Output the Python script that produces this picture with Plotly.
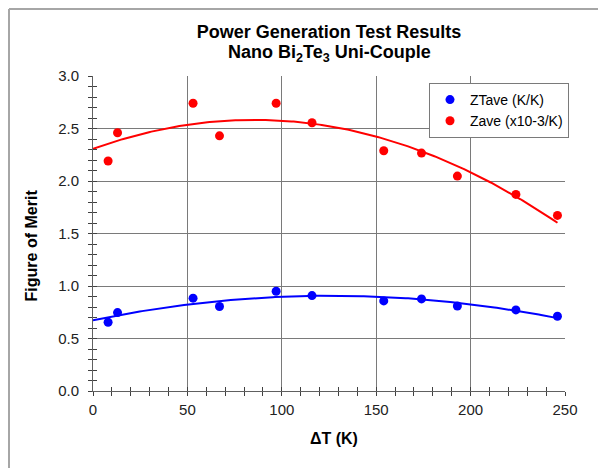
import numpy as np
import plotly.graph_objects as go

# Data
delta_t = [8, 13, 53, 67, 97, 116, 154, 174, 193, 224, 246]
zt_ave = [0.655, 0.747, 0.884, 0.805, 0.950, 0.909, 0.858, 0.877, 0.810, 0.772, 0.712]
z_ave = [2.19, 2.46, 2.74, 2.43, 2.74, 2.555, 2.288, 2.266, 2.047, 1.872, 1.672]

x_ticks = [0, 50, 100, 150, 200, 250]
y_ticks = [0.0, 0.5, 1.0, 1.5, 2.0, 2.5, 3.0]
y_tick_text = ["0.0", "0.5", "1.0", "1.5", "2.0", "2.5", "3.0"]

# 2nd-order polynomial trendlines (Excel-style) fitted to the data
fit_x = np.linspace(0, max(delta_t), 200)
zt_fit = np.polyval(np.polyfit(delta_t, zt_ave, 2), fit_x)
z_fit = np.polyval(np.polyfit(delta_t, z_ave, 2), fit_x)

# page has an 8px body margin; size the figure so it fills the window exactly
OFF = 8
W, H = 606 - OFF, 468 - OFF
PL, PR, PT, PB = 93, 565, 76, 391  # plot area in window pixels
ML, MR, MT, MB = PL - OFF, 606 - PR, PT - OFF, 468 - PB
PW, PH = W - ML - MR, H - MT - MB


def px(page_x):
    return (page_x - PL) / PW


def py(page_y):
    return (PB - page_y) / PH


FONT = "Liberation Sans, Arial, sans-serif"

fig = go.Figure()
fig.add_trace(go.Scatter(x=fit_x, y=zt_fit, mode="lines", line=dict(color="#0000ff", width=2),
                         showlegend=False, hoverinfo="skip"))
fig.add_trace(go.Scatter(x=fit_x, y=z_fit, mode="lines", line=dict(color="#ff0000", width=2),
                         showlegend=False, hoverinfo="skip"))
fig.add_trace(go.Scatter(x=delta_t, y=zt_ave, mode="markers", name="ZTave (K/K)",
                         marker=dict(color="#0000ff", size=9)))
fig.add_trace(go.Scatter(x=delta_t, y=z_ave, mode="markers", name="Zave (x10-3/K)",
                         marker=dict(color="#ff0000", size=9)))
# invisible trace to host the overlay axes (inner half of the crossing ticks)
fig.add_trace(go.Scatter(x=[None], y=[None], xaxis="x2", yaxis="y2", showlegend=False, hoverinfo="skip"))

axis_common = dict(showline=True, linecolor="#606060", linewidth=1, zeroline=False,
                   showgrid=True, gridcolor="#7a7a7a", gridwidth=1,
                   ticks="outside", ticklen=4, tickcolor="#404040", tickwidth=1,
                   tickfont=dict(family=FONT, size=15, color="#222222"))

fig.update_layout(
    width=W, height=H,
    margin=dict(l=ML, r=MR, t=MT, b=MB),
    paper_bgcolor="white", plot_bgcolor="white",
    font=dict(family=FONT, color="#000000"),
    title=dict(text="<b>Power Generation Test Results</b>",
               x=0.5, xref="paper", y=1 - (31.7 - OFF) / H, yref="container", yanchor="middle",
               font=dict(size=18, color="#000000")),
    xaxis=dict(range=[0, 250], tickvals=x_ticks, ticktext=[str(v) for v in x_ticks],
               minor=dict(dtick=10, ticks="outside", ticklen=4, tickcolor="#404040", showgrid=False),
               ticklabelstandoff=1, **axis_common),
    yaxis=dict(range=[0, 3], tickvals=y_ticks, ticktext=y_tick_text,
               minor=dict(dtick=0.1, ticks="outside", ticklen=4, tickcolor="#404040", showgrid=False),
               ticklabelstandoff=6, **axis_common),
    xaxis2=dict(overlaying="x", matches="x", anchor="y2", range=[0, 250], tickvals=x_ticks,
                showticklabels=False, showgrid=False, showline=False, zeroline=False,
                ticks="inside", ticklen=4, tickcolor="#404040", side="bottom",
                minor=dict(dtick=10, ticks="inside", ticklen=4, tickcolor="#404040")),
    yaxis2=dict(overlaying="y", matches="y", anchor="x2", range=[0, 3], tickvals=y_ticks,
                showticklabels=False, showgrid=False, showline=False, zeroline=False,
                ticks="inside", ticklen=4, tickcolor="#404040", side="left",
                minor=dict(dtick=0.1, ticks="inside", ticklen=4, tickcolor="#404040")),
    legend=dict(x=px(429), y=py(83), xanchor="left", yanchor="top",
                bgcolor="white", bordercolor="#7a7a7a", borderwidth=1,
                font=dict(size=14, color="#000000"), itemsizing="trace", itemwidth=30,
                tracegroupgap=0),
    annotations=[
        dict(text="<b>Nano Bi<sub>2</sub>Te<sub>3</sub> Uni-Couple</b>", xref="paper", yref="paper",
             x=0.5, y=py(53), showarrow=False, xanchor="center", yanchor="middle",
             font=dict(size=18, color="#000000")),
        dict(text="<b>Figure of Merit</b>", textangle=-90, xref="paper", yref="paper",
             x=px(31.7), y=py(245.7), showarrow=False,
             xanchor="center", yanchor="middle", font=dict(size=16, color="#000000")),
        dict(text="<b>ΔT (K)</b>", xref="paper", yref="paper",
             x=px(333.8), y=py(439), showarrow=False,
             xanchor="center", yanchor="middle", font=dict(size=16, color="#000000")),
    ],
    shapes=[
        dict(type="line", xref="paper", yref="paper",
             x0=px(OFF + 1), x1=px(606), y0=py(OFF + 1), y1=py(OFF + 1),
             line=dict(color="#a6a6a6", width=2)),
        dict(type="line", xref="paper", yref="paper",
             x0=px(OFF + 1), x1=px(OFF + 1), y0=py(OFF + 1), y1=py(468),
             line=dict(color="#a6a6a6", width=2)),
    ],
)

fig.write_html("out.html")
